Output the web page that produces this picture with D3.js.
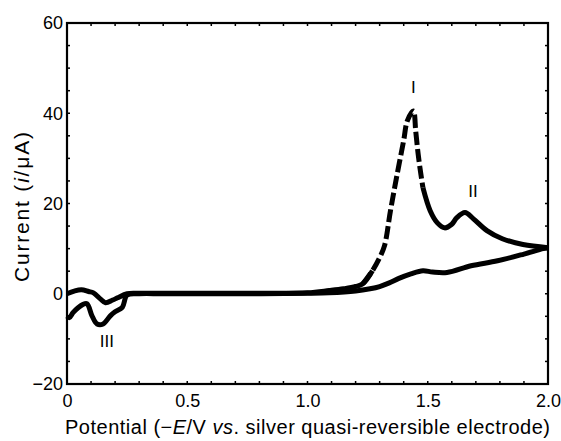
<!DOCTYPE html>
<html><head><meta charset="utf-8">
<script src="https://cdn.jsdelivr.net/npm/d3@7"></script>
<style>body{margin:0;background:#fff}svg{display:block}text{font-family:"Liberation Sans",Arial,sans-serif;fill:#000}</style>
</head><body><svg id="c" width="561" height="441"></svg>
<script>
// Forward (reduction) scan 0 -> 2.0 V
const fwdX = [0.00,0.03,0.06,0.09,0.11,0.14,0.16,0.19,0.21,0.25,0.30,0.50,0.80,1.00,1.09,1.15,1.20,1.23,1.27,1.30,1.32,1.345,1.37,1.40,1.415,1.44,1.45,1.46,1.47,1.48,1.51,1.54,1.57,1.60,1.62,1.655,1.69,1.746,1.81,1.896,2.00];
const fwdY = [0.0,0.6,0.9,0.5,0.2,-1.2,-2.0,-1.4,-0.9,0.0,0.1,0.1,0.1,0.2,0.7,1.1,1.6,2.2,5.1,8.0,10.6,18.4,25.7,34.0,38.3,40.5,36.0,31.0,27.0,23.5,18.4,15.7,14.6,15.4,16.8,18.0,16.6,14.0,12.2,10.9,10.2];
// Return (oxidation) scan 2.0 -> 0 V
const revX = [2.00,1.98,1.90,1.79,1.68,1.58,1.52,1.48,1.43,1.38,1.34,1.30,1.26,1.20,1.09,1.00,0.70,0.40,0.30,0.25,0.23,0.20,0.18,0.15,0.125,0.104,0.083,0.065,0.046,0.025,0.01,0.00];
const revY = [10.2,10.0,8.8,7.3,6.2,4.7,4.8,5.1,4.4,3.4,2.4,1.6,1.1,0.6,0.2,0.1,0.0,0.0,0.0,-0.3,-3.0,-4.0,-4.9,-6.7,-6.7,-4.9,-2.2,-2.4,-3.1,-4.2,-5.3,-5.0];
const xTicks = [0,0.5,1.0,1.5,2.0];
const xTickLabels = ["0","0.5","1.0","1.5","2.0"];
const yTicks = [-20,0,20,40,60];
const yTickLabels = ["\u221220","0","20","40","60"];
const peakLabels = ["I","II","III"];
const peakX = [1.44,1.688,0.166];
const peakY = [44.5,21.4,-11.8];

const L=67,R=548,T=23,B=384;
const svg=d3.select("#c");
const x=d3.scaleLinear().domain([0,2]).range([L,R]);
const y=d3.scaleLinear().domain([-20,60]).range([B,T]);

// minor ticks on all four sides (inward)
const xm=d3.range(0,2.0001,0.1), ym=d3.range(-20,60.001,5);
const tk=svg.append("g").attr("stroke","#000").attr("stroke-width",1.5);
xm.forEach(v=>{tk.append("line").attr("x1",x(v)).attr("x2",x(v)).attr("y1",B).attr("y2",B-3);
  tk.append("line").attr("x1",x(v)).attr("x2",x(v)).attr("y1",T).attr("y2",T+3);});
ym.forEach(v=>{tk.append("line").attr("y1",y(v)).attr("y2",y(v)).attr("x1",L).attr("x2",L+3);
  tk.append("line").attr("y1",y(v)).attr("y2",y(v)).attr("x1",R).attr("x2",R-3);});

// axes labels via d3 axes (no lines)
const ax=svg.append("g").attr("transform",`translate(0,${B})`)
  .call(d3.axisBottom(x).tickValues(xTicks).tickFormat((d,i)=>xTickLabels[i]).tickSize(0).tickPadding(10));
ax.select(".domain").remove();
ax.selectAll("text").attr("font-size",18).style("font-family","Liberation Sans, Arial, sans-serif");
const ay=svg.append("g").attr("transform",`translate(${L},0)`)
  .call(d3.axisLeft(y).tickValues(yTicks).tickFormat((d,i)=>yTickLabels[i]).tickSize(0).tickPadding(4));
ay.select(".domain").remove();
ay.selectAll("text").attr("font-size",18).style("font-family","Liberation Sans, Arial, sans-serif");

// data
const line=d3.line().x(d=>x(d[0])).y(d=>y(d[1])).curve(d3.curveCatmullRom.alpha(0.5));
const fwd=fwdX.map((v,i)=>[v,fwdY[i]]);
const rev=revX.map((v,i)=>[v,revY[i]]);
const g=svg.append("g").attr("fill","none").attr("stroke","#000").attr("stroke-linejoin","round");
g.append("path").datum(rev).attr("d",line).attr("stroke-width",5);
const a=fwd.filter(d=>d[0]<=1.27), b=fwd.filter(d=>d[0]>=1.23&&d[0]<=1.48), c=fwd.filter(d=>d[0]>=1.48);
g.append("path").datum(a).attr("d",line).attr("stroke-width",5);
g.append("path").datum(b).attr("d",line).attr("stroke-width",5).attr("stroke-dasharray","13,4");
g.append("path").datum(c).attr("d",line).attr("stroke-width",5);

// frame
svg.append("rect").attr("x",L).attr("y",T).attr("width",R-L).attr("height",B-T)
  .attr("fill","none").attr("stroke","#000").attr("stroke-width",2.2);

// peak labels
peakLabels.forEach((t,i)=>svg.append("text").attr("x",x(peakX[i])).attr("y",y(peakY[i]))
  .attr("text-anchor","middle").attr("font-size",17).text(t));

// titles
const yt=svg.append("text").attr("transform","translate(29,207) rotate(-90)").attr("text-anchor","middle")
  .attr("font-size",21).attr("textLength",150).attr("lengthAdjust","spacing");
yt.append("tspan").text("Current (");
yt.append("tspan").attr("font-style","italic").text("i");
yt.append("tspan").text("/\u03bcA)");
const xt=svg.append("text").attr("x",307.5).attr("y",434).attr("text-anchor","middle")
  .attr("font-size",20).attr("textLength",485).attr("lengthAdjust","spacing");
xt.append("tspan").text("Potential (\u2212");
xt.append("tspan").attr("font-style","italic").text("E");
xt.append("tspan").text("/V ");
xt.append("tspan").attr("font-style","italic").text("vs");
xt.append("tspan").text(". silver quasi-reversible electrode)");
</script></body></html>
